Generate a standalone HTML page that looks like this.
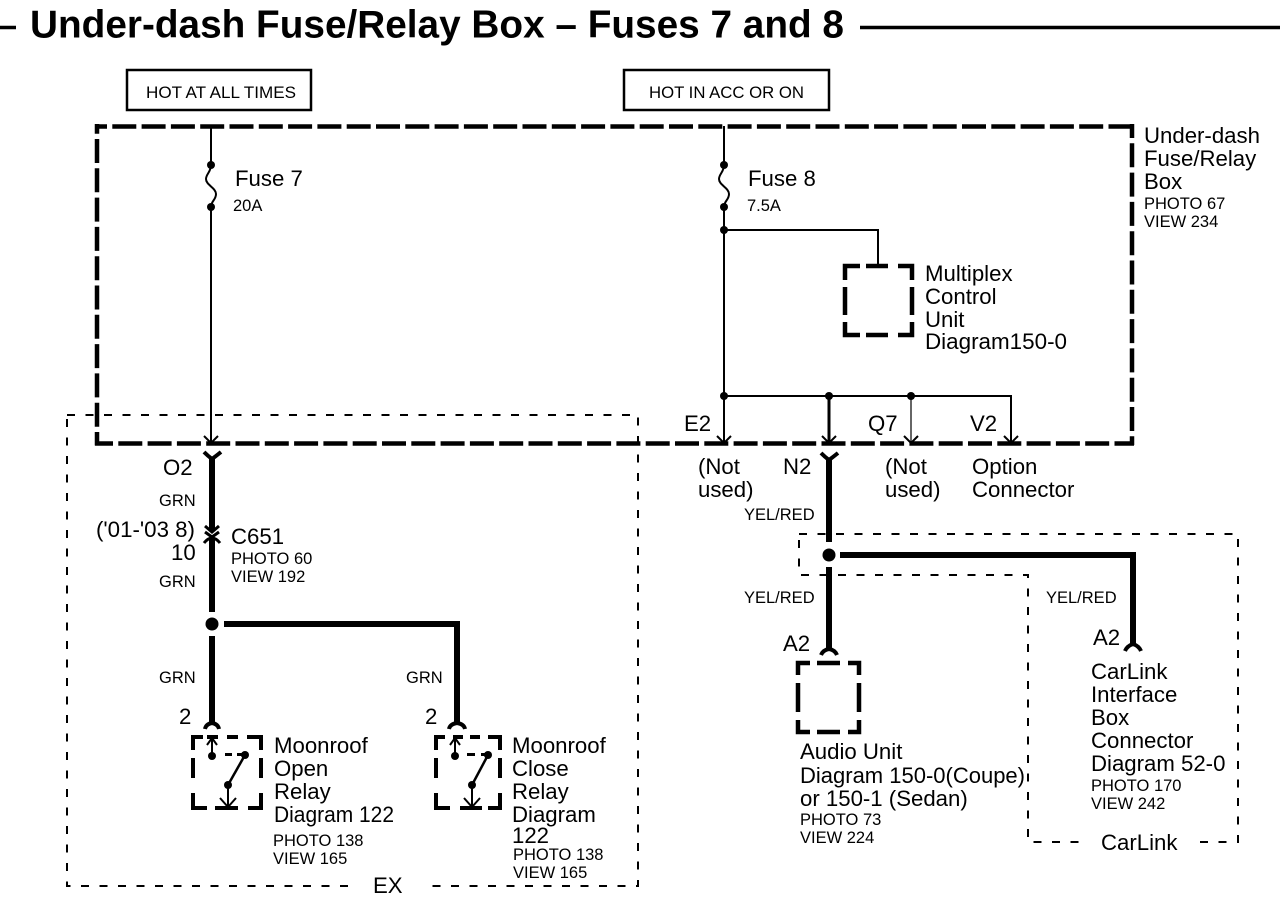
<!DOCTYPE html>
<html><head><meta charset="utf-8"><style>
html,body{margin:0;padding:0;background:#fff}
svg{display:block}
text{font-family:"Liberation Sans",Arial,sans-serif;fill:#000}
.m{font-size:22.2px}
.s{font-size:16.5px}
.w{fill:none;stroke:#000;stroke-width:6}
.t{fill:none;stroke:#000;stroke-width:2}
.b{fill:none;stroke:#000;stroke-width:4}
.bb{fill:none;stroke:#000;stroke-width:4.500}
.f{fill:none;stroke:#000;stroke-width:4}
.d{fill:none;stroke:#000;stroke-width:2;stroke-dasharray:8 10.500}
.o{fill:none;stroke:#000;stroke-width:4.500;stroke-dasharray:24 5.300}
</style></head><body>
<svg width="1280" height="904" viewBox="0 0 1280 904" xmlns="http://www.w3.org/2000/svg">
<text x="30" y="37.500" font-size="39" font-weight="bold" textLength="814" lengthAdjust="spacingAndGlyphs">Under-dash Fuse/Relay Box – Fuses 7 and 8</text>
<path d="M0 27.500H16M860 27.500H1280" stroke="#000" stroke-width="3.500" fill="none"/>
<rect x="127" y="70" width="184" height="40" fill="none" stroke="#000" stroke-width="2.500"/>
<rect x="624" y="70" width="205" height="40" fill="none" stroke="#000" stroke-width="2.500"/>
<text x="146" y="98" class="s" textLength="150" lengthAdjust="spacingAndGlyphs">HOT AT ALL TIMES</text>
<text x="649" y="98" class="s" textLength="155" lengthAdjust="spacingAndGlyphs">HOT IN ACC OR ON</text>

<!-- outer box -->
<path d="M95 126.500H1134" class="o" stroke-dashoffset="12"/>
<path d="M1132 124V445" class="o" stroke-dashoffset="10"/>
<path d="M95 443.500H1134" class="o" stroke-dashoffset="6"/>
<path d="M97 445.500V124" class="o" stroke-dashoffset="10.500"/>
<!-- thin option boxes -->
<rect x="67" y="415" width="571" height="471" class="d"/>
<path d="M799 534H1238V842H1028V575H799Z" class="d"/>
<rect x="356" y="880" width="66" height="12" fill="#fff"/>
<rect x="1085" y="836" width="105" height="12" fill="#fff"/>

<!-- fuse 7 -->
<path d="M211 126V165C211 172 206 174 206 179C206 185 216 188 216 194C216 200 211 201 211 207V442" class="t"/>
<circle cx="211" cy="165" r="4"/><circle cx="211" cy="207" r="4"/>
<path d="M204 436L211 443L218 436" class="t"/>
<!-- fuse 8 -->
<path d="M724 126V165C724 172 719 174 719 179C719 185 729 188 729 194C729 200 724 201 724 207V442" class="t"/>
<circle cx="724" cy="165" r="4"/><circle cx="724" cy="207" r="4"/>
<circle cx="724" cy="230" r="4"/>
<path d="M724 230H878V265" class="t"/>
<path d="M717 436L724 443L731 436" class="t"/>
<!-- bus -->
<path d="M724 396H1011V442" class="t"/>
<path d="M1004 436L1011 443L1018 436" class="t"/>
<path d="M829 396V442" fill="none" stroke="#000" stroke-width="3"/>
<path d="M822 436L829 443L836 436" class="t"/>
<path d="M911 396V442" fill="none" stroke="#000" stroke-width="1.200"/>
<path d="M904 436L911 443L918 436" class="t"/>
<circle cx="724" cy="396" r="4"/><circle cx="829" cy="396" r="4"/><circle cx="911" cy="396" r="4"/>

<!-- multiplex -->
<path d="M845 280V266H860M866 266H888M898 266H912V280M912 287V315M912 322V335H898M888 335H866M860 335H845V322M845 315V287" class="bb"/>

<!-- left harness -->
<path d="M212 458V531M212 538V612" class="w"/>
<path d="M204 452Q208 456 212 459Q216 456 221 452" class="f"/>
<path d="M205 526L212 532L219 526M205 532L212 537L219 532" fill="none" stroke="#000" stroke-width="3"/>
<path d="M204 543Q208 538 212 538Q216 538 220 543" fill="none" stroke="#000" stroke-width="3"/>
<circle cx="212" cy="624" r="6.500"/>
<path d="M224 624H457V725" class="w"/>
<path d="M212 636V725" class="w"/>
<path d="M205 729Q206 724 212 723Q218 724 219 729" class="f"/>
<path d="M449 729Q450 724 457 723Q464 724 465 729" class="f"/>

<!-- relay 1 -->
<path d="M193 750V737H203M207 737H218M227 737H238M247 737H261V750M261 758V778M261 793V808H248M238 808H215M207 808H193V793M193 778V758" class="b"/>
<path d="M212 755V739M207 745L212 738L217 745" class="t"/>
<path d="M225 754.500H232M237 754.500H245" fill="none" stroke="#000" stroke-width="3"/>
<circle cx="212" cy="756" r="4"/><circle cx="245" cy="755" r="4"/><circle cx="228" cy="785" r="4"/>
<path d="M245 755L228 785" fill="none" stroke="#000" stroke-width="2.500"/>
<path d="M228 785V806M220 798L228 807L236 798" class="t"/>
<!-- relay 2 -->
<path d="M436 750V737H445M453 737H463M470 737H480M488 737H500V750M500 758V778M500 793V808H488M482 808H460M450 808H436V793M436 778V758" class="b"/>
<path d="M455 755V739M450 745L455 738L460 745" class="t"/>
<path d="M467 754.500H475M481 754.500H488" fill="none" stroke="#000" stroke-width="3"/>
<circle cx="455" cy="756" r="4"/><circle cx="488" cy="755" r="4"/><circle cx="472" cy="785" r="4"/>
<path d="M488 755L472 785" fill="none" stroke="#000" stroke-width="2.500"/>
<path d="M472 785V806M464 798L472 807L480 798" class="t"/>

<!-- right harness -->
<path d="M829 458V542M829 567V650" class="w"/>
<path d="M821 453Q825 457 829 460Q833 457 838 453" class="f"/>
<circle cx="829" cy="555" r="6.500"/>
<path d="M840 555H1133V645" class="w"/>
<path d="M821 655Q823 650 829 649Q835 650 837 655" class="f"/>
<path d="M1125 651Q1127 646 1133 644Q1139 646 1141 651" class="f"/>
<!-- audio -->
<path d="M798 675V663H810M817 663H840M848 663H859V675M859 683V712M859 720V732H848M840 732H817M810 732H798V720M798 712V683" class="bb"/>

<!-- labels -->
<text x="1144" y="143" class="m">Under-dash</text>
<text x="1144" y="166" class="m">Fuse/Relay</text>
<text x="1144" y="189" class="m">Box</text>
<text x="1144" y="209" class="s">PHOTO 67</text>
<text x="1144" y="227" class="s">VIEW 234</text>
<text x="235" y="186" class="m">Fuse 7</text>
<text x="233" y="211" class="s">20A</text>
<text x="748" y="186" class="m">Fuse 8</text>
<text x="747" y="211" class="s">7.5A</text>
<text x="925" y="281" class="m">Multiplex</text>
<text x="925" y="304" class="m">Control</text>
<text x="925" y="327" class="m">Unit</text>
<text x="925" y="349" class="m" textLength="142" lengthAdjust="spacingAndGlyphs">Diagram150-0</text>
<text x="684" y="431" class="m">E2</text>
<text x="868" y="431" class="m">Q7</text>
<text x="970" y="431" class="m">V2</text>
<text x="698" y="474" class="m">(Not</text>
<text x="698" y="497" class="m">used)</text>
<text x="783" y="474" class="m">N2</text>
<text x="885" y="474" class="m">(Not</text>
<text x="885" y="497" class="m">used)</text>
<text x="972" y="474" class="m">Option</text>
<text x="972" y="497" class="m">Connector</text>
<text x="163" y="475" class="m">O2</text>
<text x="159" y="506" class="s">GRN</text>
<text x="96" y="537" class="m" textLength="99" lengthAdjust="spacingAndGlyphs">('01-'03 8)</text>
<text x="171" y="560" class="m">10</text>
<text x="159" y="587" class="s">GRN</text>
<text x="231" y="544" class="m">C651</text>
<text x="231" y="564" class="s">PHOTO 60</text>
<text x="231" y="582" class="s">VIEW 192</text>
<text x="159" y="683" class="s">GRN</text>
<text x="406" y="683" class="s">GRN</text>
<text x="179" y="724" class="m">2</text>
<text x="425" y="724" class="m">2</text>
<text x="274" y="753" class="m">Moonroof</text>
<text x="274" y="776" class="m">Open</text>
<text x="274" y="799" class="m">Relay</text>
<text x="274" y="822" class="m" textLength="120" lengthAdjust="spacingAndGlyphs">Diagram 122</text>
<text x="273" y="846" class="s">PHOTO 138</text>
<text x="273" y="864" class="s">VIEW 165</text>
<text x="512" y="753" class="m">Moonroof</text>
<text x="512" y="776" class="m">Close</text>
<text x="512" y="799" class="m">Relay</text>
<text x="512" y="822" class="m">Diagram</text>
<text x="512" y="843" class="m">122</text>
<text x="513" y="860" class="s">PHOTO 138</text>
<text x="513" y="878" class="s">VIEW 165</text>
<text x="373" y="893" class="m">EX</text>
<text x="744" y="520" class="s">YEL/RED</text>
<text x="744" y="603" class="s">YEL/RED</text>
<text x="1046" y="603" class="s">YEL/RED</text>
<text x="783" y="651" class="m">A2</text>
<text x="1093" y="645" class="m">A2</text>
<text x="800" y="759" class="m">Audio Unit</text>
<text x="800" y="783" class="m" textLength="225" lengthAdjust="spacingAndGlyphs">Diagram 150-0(Coupe)</text>
<text x="800" y="806" class="m">or 150-1 (Sedan)</text>
<text x="800" y="825" class="s">PHOTO 73</text>
<text x="800" y="843" class="s">VIEW 224</text>
<text x="1091" y="679" class="m">CarLink</text>
<text x="1091" y="702" class="m">Interface</text>
<text x="1091" y="725" class="m">Box</text>
<text x="1091" y="748" class="m">Connector</text>
<text x="1091" y="771" class="m">Diagram 52-0</text>
<text x="1091" y="791" class="s">PHOTO 170</text>
<text x="1091" y="809" class="s">VIEW 242</text>
<text x="1101" y="850" class="m">CarLink</text>
</svg>
</body></html>
